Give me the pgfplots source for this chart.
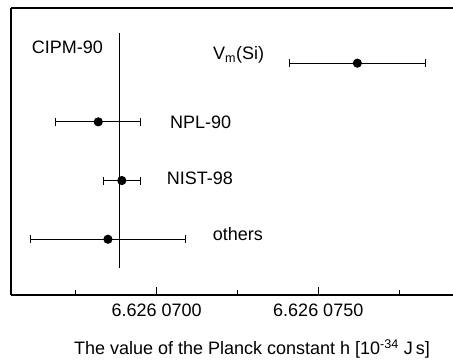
\documentclass[border=0pt]{standalone}
\usepackage{pgfplots}
\pgfplotsset{compat=1.18}
\usepackage{fontspec}
\setmainfont{Liberation Sans}
\begin{document}
\fontsize{18pt}{21pt}\selectfont
\begin{tikzpicture}
\path[use as bounding box] (0,0) rectangle (453pt,363pt);
\begin{axis}[
  at={(11pt,68pt)}, anchor=south west,
  scale only axis, width=442pt, height=287pt,
  xmin=654.9, xmax=791.7, ymin=0.05, ymax=4.94,
  axis x line=box, axis y line=left,
  y axis line style={-},
  every outer y axis line/.append style={-},
  axis line style={line width=1.1pt, black},
  ytick=\empty,
  xtick={700,750}, xticklabels={6.626 0700, 6.626 0750},
  minor xtick={675,725,775},
  xtick pos=bottom, tick align=inside,
  major tick length=8pt, minor tick length=5pt,
  every tick/.style={black, line width=1pt},
  xticklabel style={yshift=-2.5pt, font=\fontsize{18pt}{21pt}\selectfont},
  clip=false,
]
\addplot[black, line width=1.1pt] coordinates {(688.5,0.51) (688.5,4.52)};
\addplot[black, line width=1.1pt, only marks, mark=*, mark size=4pt,
  error bars/.cd, x dir=both, x explicit,
  error mark options={rotate=90, mark size=4pt, line width=1.1pt, black},
  error bar style={line width=1.1pt, black}]
  coordinates {
    (762.1,4) +- (21.0,0)
    (681.9,3) +- (13.1,0)
    (689.2,2) +- (5.8,0)
    (684.9,1) +- (24.0,0)
  };
\node[anchor=base west, inner sep=0pt] at (axis cs:661.3,4.16) {CIPM-90};
\node[anchor=base west, inner sep=0pt] at (axis cs:717.4,4.06) {V\textsubscript{m}(Si)};
\node[anchor=base west, inner sep=0pt] at (axis cs:704.1,2.89) {NPL-90};
\node[anchor=base west, inner sep=0pt] at (axis cs:703.1,1.93) {NIST-98};
\node[anchor=base west, inner sep=0pt] at (axis cs:717.3,0.98) {others};
\end{axis}
\node[anchor=base, inner sep=0pt] at (252pt,8pt) {The value of the Planck constant h [10\textsuperscript{-34} J\,s]};
\end{tikzpicture}
\end{document}
